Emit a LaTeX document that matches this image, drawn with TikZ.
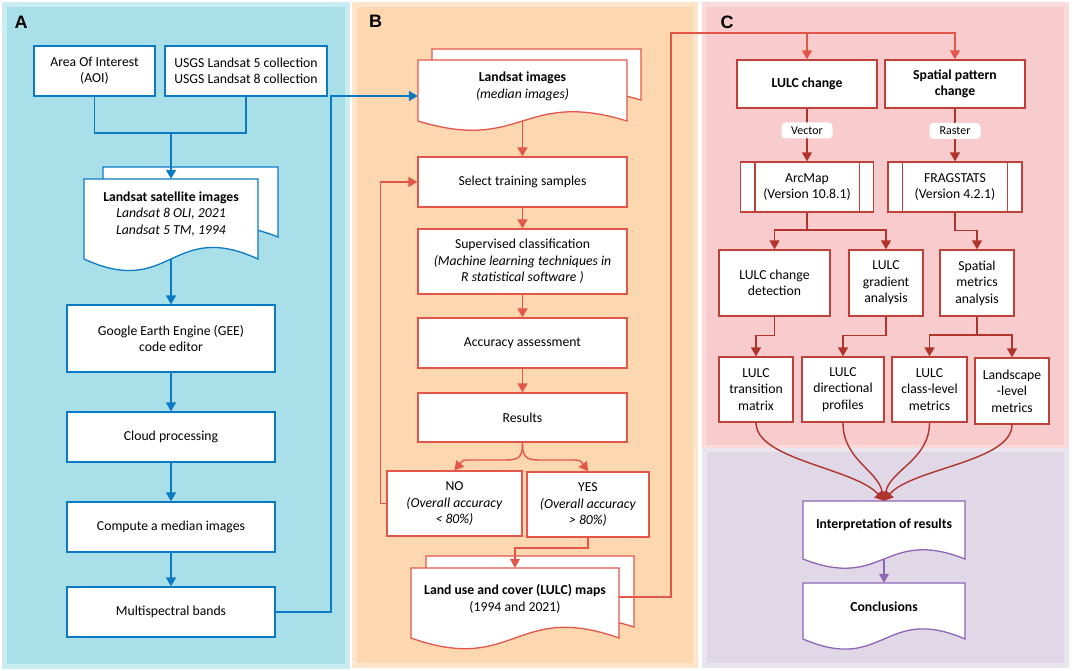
\documentclass[tikz,border=0pt]{standalone}
\usepackage{fontspec}
\setmainfont{Carlito}
\newfontfamily\lblfont{Liberation Sans}
\usetikzlibrary{arrows.meta}
\definecolor{pAd}{HTML}{A9DFE8}
\definecolor{pAl}{HTML}{C8ECF2}
\definecolor{pBd}{HTML}{FDD7B0}
\definecolor{pBl}{HTML}{FEE5CC}
\definecolor{pCd}{HTML}{F8CCCC}
\definecolor{pCl}{HTML}{FADADA}
\definecolor{pDd}{HTML}{E1D8E7}
\definecolor{pDl}{HTML}{EAE4EF}
\definecolor{cblue}{HTML}{0B7AC4}
\definecolor{cred}{HTML}{E4564A}
\definecolor{cbox}{HTML}{C0403A}
\definecolor{cdark}{HTML}{B0342C}
\definecolor{cpurp}{HTML}{9064B4}
\newcommand\mydoc[6]{\draw[#1] (#2,#3) -- (#4,#3) -- (#4,#5) .. controls ({(#2+#4)/2},{#5-#6}) and ({(#2+#4)/2},{#5+#6}) .. (#2,#5) -- cycle;}
\begin{document}
\begin{tikzpicture}[x=1pt,y=-1pt,
  every node/.style={font=\fontsize{13.7}{16.5}\selectfont, align=center, inner sep=0pt},
  sz/.style 2 args={minimum width=#1pt, minimum height=#2pt},
  bx/.style={draw, fill=white, line width=1.3pt},
  boxA/.style={bx, draw=cblue},
  boxB/.style={bx, draw=cred},
  boxC/.style={bx, draw=cbox},
  docA/.style={draw=cblue, fill=white, line width=1.3pt},
  docB/.style={draw=cred, fill=white, line width=1.3pt},
  docD/.style={draw=cpurp, fill=white, line width=1.3pt},
  bline/.style={draw=cblue, line width=1.6pt},
  barr/.style={bline, -{Triangle[width=10pt,length=9pt]}},
  rline/.style={draw=cred, line width=1.4pt},
  rarr/.style={rline, -{Triangle[width=10pt,length=9pt]}},
  darr/.style={draw=cdark, line width=1.4pt, -{Triangle[width=10pt,length=9pt]}},
  parr/.style={draw=cpurp, line width=1.4pt, -{Triangle[width=10pt,length=9pt]}},
  tag/.style={fill=white, rounded corners=4pt, font=\fontsize{12}{14}\selectfont, sz={51}{16}},
  plabel/.style={font=\lblfont\bfseries\fontsize{18}{18}\selectfont}
]
\useasboundingbox (0,0) rectangle (1072,671);
% panels
\fill[pAl] (2,2) rectangle (350,669);
\fill[pAd] (7,7) rectangle (345,664);
\fill[pBl] (352,2) rectangle (698,668);
\fill[pBd] (357,7) rectangle (693,663);
\fill[pCl] (702,2) rectangle (1069,449);
\fill[pCd] (706,7) rectangle (1064,445);
\fill[pDl] (702,448) rectangle (1069,668);
\fill[pDd] (707,452) rectangle (1064,663);
\node[plabel] (la) at (21,22) {A};
\node[plabel] (lb) at (375.5,21.5) {B};
\node[plabel] (lc) at (727,22) {C};

% ---------- Panel A
\node[boxA, sz={121}{50}] (aoi) at (94.5,71) {Area Of Interest\\(AOI)};
\node[boxA, sz={162}{50}] (usgs) at (246,71) {USGS Landsat 5 collection\\USGS Landsat 8 collection};
\mydoc{docA}{103}{167}{278}{237}{35}
\mydoc{docA}{84}{179}{258}{259}{40}
\node[sz={174}{80}] (lsat) at (171,219) {};
\node (lsatt) at (171,214) {\textbf{Landsat satellite images}\\\textit{Landsat 8 OLI, 2021}\\\textit{Landsat 5 TM, 1994}};
\node[boxA, sz={208}{67}] (gee) at (171,338.5) {Google Earth Engine (GEE)\\code editor};
\node[boxA, sz={208}{50}] (cloud) at (171,437) {Cloud processing};
\node[boxA, sz={208}{50}] (comp) at (171,527) {Compute a median images};
\node[boxA, sz={208}{50}] (multi) at (171,612) {Multispectral bands};
\coordinate (mA) at (171,133);
\draw[bline] (aoi.south) |- (mA) -| (usgs.south);
\draw[barr] (mA) -- (lsat.north);
\draw[barr] (lsat.south) -- (gee.north);
\draw[barr] (gee) -- (cloud);
\draw[barr] (cloud) -- (comp);
\draw[barr] (comp) -- (multi);

% ---------- Panel B
\mydoc{docB}{432}{49}{641}{100}{30}
\mydoc{docB}{418}{60}{627}{121}{32}
\node[sz={209}{61}] (limg) at (522.5,90.5) {};
\node (limgt) at (522.5,86.5) {\textbf{Landsat images}\\\textit{(median images)}};
\draw[barr] (multi.east) -- (331,612) |- ([yshift=-5.5pt]limg.west);
\node[boxB, sz={209}{50}] (sel) at (522.5,182) {Select training samples};
\node[boxB, sz={209}{65}] (sup) at (522.5,261.5) {Supervised classification\\\textit{(Machine learning techniques in}\\\textit{R statistical software )}};
\node[boxB, sz={209}{50}] (acc) at (522.5,343) {Accuracy assessment};
\node[boxB, sz={209}{49}] (res) at (522.5,417.5) {Results};
\node[boxB, sz={135}{65}] (no) at (454.5,503.5) {NO\\\textit{(Overall accuracy}\\\textit{< 80\%)}};
\node[boxB, sz={122}{65}] (yes) at (588,504.5) {YES\\\textit{(Overall accuracy}\\\textit{> 80\%)}};
\mydoc{docB}{426}{556}{634}{627}{33}
\mydoc{docB}{411}{568}{619}{638}{37}
\node[sz={208}{70}] (maps) at (515,603) {};
\node (mapst) at (515,599) {\textbf{Land use and cover (LULC) maps}\\(1994 and 2021)};
\draw[rarr] (limg.south) -- (sel.north);
\draw[rarr] (sel) -- (sup);
\draw[rarr] (sup) -- (acc);
\draw[rarr] (acc) -- (res);
\draw[rarr] (res.south) .. controls (522.5,456) and (520,460) .. (506,460) -- (472,460) .. controls (463,460) .. (no.north);
\draw[rarr] (res.south) .. controls (522.5,456) and (525,460) .. (539,460) -- (571,460) .. controls (580,460) .. (yes.north);
\draw[rarr] (no.west) -- ++(-6,0) |- (sel.west);
\coordinate (ym) at (515,548);
\draw[rarr] (yes.south) |- (ym) -- (maps.north);

% ---------- Panel C
\node[boxC, sz={140}{48}] (lulc) at (807,84) {\textbf{LULC change}};
\node[boxC, sz={140}{48}] (spat) at (955,84) {\textbf{Spatial pattern}\\\textbf{change}};
\coordinate (topR) at (671,33);
\draw[rarr] ([yshift=6pt]maps.east) -| (topR) -| (spat.north);
\draw[rarr] (lulc.north |- topR) -- (lulc.north);
\node[boxC, sz={133}{50}] (arc) at (807,187) {ArcMap\\(Version 10.8.1)};
\draw[draw=cbox, line width=1.3pt] ([xshift=15pt]arc.north west) -- ([xshift=15pt]arc.south west);
\draw[draw=cbox, line width=1.3pt] ([xshift=-15pt]arc.north east) -- ([xshift=-15pt]arc.south east);
\node[boxC, sz={134}{50}] (frag) at (955,187) {FRAGSTATS\\(Version 4.2.1)};
\draw[draw=cbox, line width=1.3pt] ([xshift=15pt]frag.north west) -- ([xshift=15pt]frag.south west);
\draw[draw=cbox, line width=1.3pt] ([xshift=-15pt]frag.north east) -- ([xshift=-15pt]frag.south east);
\draw[darr] (lulc) -- (arc);
\draw[darr] (spat) -- (frag);
\node[tag] (vec) at (807,130.5) {Vector};
\node[tag] (ras) at (955,131) {Raster};
\node[boxC, sz={111}{66}] (det) at (774.5,283) {LULC change\\detection};
\node[boxC, sz={74}{66}] (grad) at (886,283) {LULC\\gradient\\analysis};
\node[boxC, sz={74}{66}] (smet) at (977,283) {Spatial\\metrics\\analysis};
\node[boxC, sz={74}{65}] (trans) at (756,389.5) {LULC\\transition\\matrix};
\node[boxC, sz={82}{65}] (dir) at (843,389.5) {LULC\\directional\\profiles};
\node[boxC, sz={75}{65}] (cls) at (929.5,389.5) {LULC\\class-level\\metrics};
\node[boxC, sz={74}{66}] (land) at (1012,391) {Landscape\\-level\\metrics};
\coordinate (s1) at (807,230);
\draw[darr] (arc.south) -- (s1) -| (det.north);
\draw[darr] (s1) -| (grad.north);
\draw[darr] (frag.south) -- ++(0,18) -| (smet.north);
\draw[darr] (det.south) -- ++(0,19) -| (trans.north);
\draw[darr] (grad.south) -- ++(0,19) -| (dir.north);
\coordinate (s2) at (977,335);
\draw[darr] (smet.south) -- (s2) -| (cls.north);
\draw[darr] (s2) -| (land.north);

% ---------- Panel D
\mydoc{docD}{803}{501}{965}{559}{32}
\node[sz={162}{58}] (interp) at (884,530) {};
\node (interpt) at (884,525) {\textbf{Interpretation of results}};
\mydoc{docD}{803}{583}{965}{639}{35}
\node[sz={162}{56}] (concl) at (884,611) {};
\node (conclt) at (884,607) {\textbf{Conclusions}};
\draw[parr] (interp.south) -- (concl.north);
\draw[darr] (trans.south) .. controls (756,460) and (855,468) .. (interp.north);
\draw[darr] (dir.south) .. controls (843,460) and (878,470) .. (interp.north);
\draw[darr] (cls.south) .. controls (929.5,460) and (890,470) .. (interp.north);
\draw[darr] (land.south) .. controls (1012,462) and (912,468) .. (interp.north);
\end{tikzpicture}
\end{document}
